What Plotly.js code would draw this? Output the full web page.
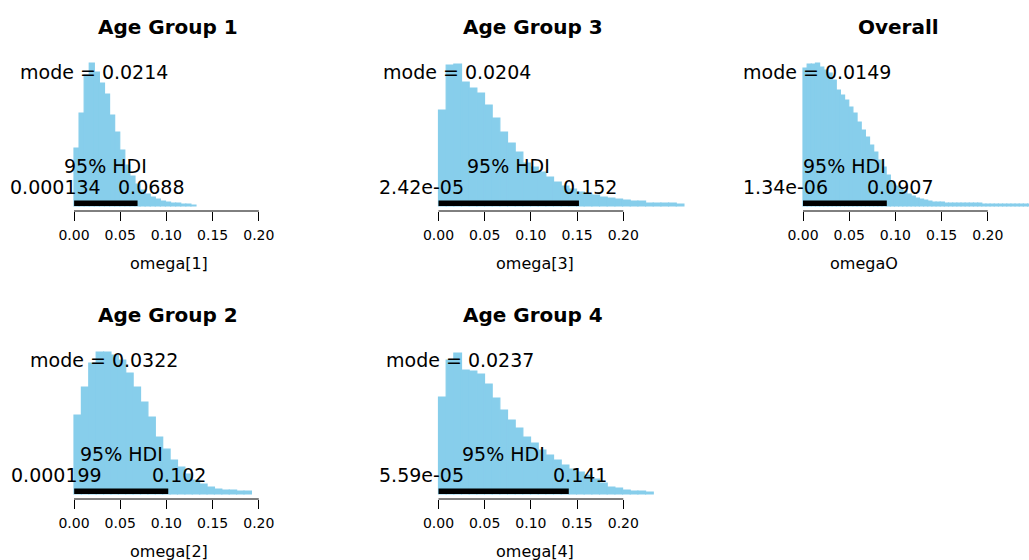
<!DOCTYPE html>
<html><head><meta charset="utf-8">
<script src="https://cdn.plot.ly/plotly-3.0.1.min.js"></script>
<style>html,body{margin:0;padding:0;background:#fff;} #chart{width:1029px;height:560px;}</style>
</head><body><div id="chart"></div>
<script>
// ---------- data ----------
const panelTitles = ["Age Group 1", "Age Group 3", "Overall", "Age Group 2", "Age Group 4"];
const paramLabels = ["omega[1]", "omega[3]", "omegaO", "omega[2]", "omega[4]"];
const modeText = ["0.0214", "0.0204", "0.0149", "0.0322", "0.0237"];
const modes = [0.0214, 0.0204, 0.0149, 0.0322, 0.0237];
const hdiLow = [0.000134, 2.42e-05, 1.34e-06, 0.000199, 5.59e-05];
const hdiHigh = [0.0688, 0.152, 0.0907, 0.102, 0.141];
const hdiLowText = ["0.000134", "2.42e-05", "1.34e-06", "0.000199", "5.59e-05"];
const hdiHighText = ["0.0688", "0.152", "0.0907", "0.102", "0.141"];
const binWidths = [0.0055, 0.0083, 0.0045, 0.008, 0.0083];
const heightsAG1 = [58, 93, 131, 143, 134, 123, 112, 91, 74, 56, 41, 30, 22, 16, 12, 9, 7, 5, 4, 3, 3, 2, 2, 1];
const heightsAG3 = [96, 141, 142, 124, 118, 113, 101, 88, 74, 63, 54, 43, 39, 34, 29, 24, 20, 17, 14, 12, 11, 9, 8, 7, 6, 5, 5, 3, 3, 3, 3, 2];
const heightsOverall = [138, 142, 142, 143, 139, 136, 133, 126, 116, 111, 106, 99, 93, 84, 76, 69, 61, 54, 46, 39, 31, 24, 20, 17, 15, 12, 10, 8, 7, 6, 5, 4, 4, 4, 3, 3, 3, 3, 3, 3, 3, 3, 3, 2, 2, 2, 2, 2, 2, 2, 2, 2, 2, 2, 2];
const heightsAG2 = [79, 107, 131, 142, 142, 139, 134, 121, 107, 92, 77, 57, 45, 34, 27, 20, 14, 10, 7, 5, 4, 4, 3, 3];
const heightsAG4 = [97, 134, 141, 124, 123, 120, 110, 96, 84, 74, 66, 57, 51, 44, 39, 34, 29, 25, 22, 19, 15, 11, 7, 6, 4, 3, 3, 2];
const tickVals = [0, 0.05, 0.10, 0.15, 0.20];
const tickText = ["0.00", "0.05", "0.10", "0.15", "0.20"];

// ---------- layout geometry ----------
const allHeights = [heightsAG1, heightsAG3, heightsOverall, heightsAG2, heightsAG4];
const panelRow = [0, 0, 0, 1, 1];
const panelCol = [0, 1, 2, 0, 1];
const W = 1029, H = 560;
const colZero = [74, 438.5, 803];
const pxPerUnit = 924;
const rowAxis = [211, 499];
const plotH = 150;
const xMin = -0.07;
const colXMax = [0.27, 0.27, (W - 803) / pxPerUnit];
const titleX = [168, 533, 898];
const xlabX = [169, 535, 864];
const FONT = '"DejaVu Sans", sans-serif';
const BAR = '#87CEEB';

const canvas = document.createElement('canvas');
const ctx = canvas.getContext('2d');
function tw(s, size) { ctx.font = size + 'px "DejaVu Sans"'; return ctx.measureText(s).width; }
const py = p => 1 - p / H;

const traces = [];
const layout = {
  width: W, height: H, margin: {l: 0, r: 0, t: 0, b: 0},
  paper_bgcolor: '#fff', plot_bgcolor: 'rgba(0,0,0,0)',
  showlegend: false, bargap: 0, annotations: [], shapes: [],
  font: {family: FONT, color: '#000'}
};

allHeights.forEach((hs, k) => {
  const r = panelRow[k], c = panelCol[k];
  const sfx = k === 0 ? '' : String(k + 1);
  const xa = 'x' + sfx, ya = 'y' + sfx;
  const w = binWidths[k];
  traces.push({
    type: 'bar', x: hs.map((_, i) => (i + 0.5) * w), y: hs, width: hs.map(() => w),
    marker: {color: BAR, line: {color: BAR, width: 1.2}}, xaxis: xa, yaxis: ya, hoverinfo: 'skip'
  });
  traces.push({
    type: 'scatter', mode: 'lines', x: [hdiLow[k], hdiHigh[k]], y: [2.75, 2.75],
    line: {color: '#000', width: 5.5}, cliponaxis: false, xaxis: xa, yaxis: ya, hoverinfo: 'skip'
  });
  const x0 = colZero[c];
  const xMax = colXMax[c];
  layout['xaxis' + sfx] = {
    domain: [(x0 + xMin * pxPerUnit) / W, (x0 + xMax * pxPerUnit) / W],
    range: [xMin, xMax], anchor: ya, showgrid: false, zeroline: false, showline: false,
    tickmode: 'array', tickvals: tickVals, ticktext: tickText,
    ticks: 'outside', ticklen: 9, tickwidth: 1, tickcolor: '#000',
    tickfont: {family: FONT, size: 14, color: '#000'}, ticklabelstandoff: 2, fixedrange: true
  };
  layout['yaxis' + sfx] = {
    domain: [py(rowAxis[r]), py(rowAxis[r] - plotH)], range: [-5, plotH - 5],
    anchor: xa, visible: false, fixedrange: true
  };
  layout.shapes.push({
    type: 'line', xref: xa, yref: ya + ' domain',
    x0: tickVals[0], x1: tickVals[tickVals.length - 1], y0: 0, y1: 0,
    line: {color: '#000', width: 1}
  });
  const base = rowAxis[r];
  const A = layout.annotations;
  A.push({text: '<b>' + panelTitles[k] + '</b>', xref: 'paper', yref: 'paper', x: titleX[c] / W, y: py(base - 184),
    xanchor: 'center', yanchor: 'middle', showarrow: false, font: {family: FONT, size: 20, color: '#000'}});
  A.push({text: 'mode = ' + modeText[k], xref: xa, yref: 'paper', x: modes[k], y: py(base - 139.5),
    xanchor: 'center', yanchor: 'middle', showarrow: false, font: {family: FONT, size: 19, color: '#000'}});
  A.push({text: '95% HDI', xref: xa, yref: 'paper', x: (hdiLow[k] + hdiHigh[k]) / 2, y: py(base - 45),
    xanchor: 'center', yanchor: 'middle', showarrow: false, font: {family: FONT, size: 19, color: '#000'}});
  const wl = tw(hdiLowText[k], 19), wh = tw(hdiHighText[k], 19);
  A.push({text: hdiLowText[k], xref: xa, yref: 'paper', x: hdiLow[k], y: py(base - 24.5),
    xanchor: 'center', xshift: -0.2 * wl, yanchor: 'middle', showarrow: false, font: {family: FONT, size: 19, color: '#000'}});
  A.push({text: hdiHighText[k], xref: xa, yref: 'paper', x: hdiHigh[k], y: py(base - 24.5),
    xanchor: 'center', xshift: 0.2 * wh, yanchor: 'middle', showarrow: false, font: {family: FONT, size: 19, color: '#000'}});
  A.push({text: paramLabels[k], xref: 'paper', yref: 'paper', x: xlabX[c] / W, y: py(base + 52),
    xanchor: 'center', yanchor: 'middle', showarrow: false, font: {family: FONT, size: 16, color: '#000'}});
});

Plotly.newPlot('chart', traces, layout, {displayModeBar: false, staticPlot: true});
</script>
</body></html>
